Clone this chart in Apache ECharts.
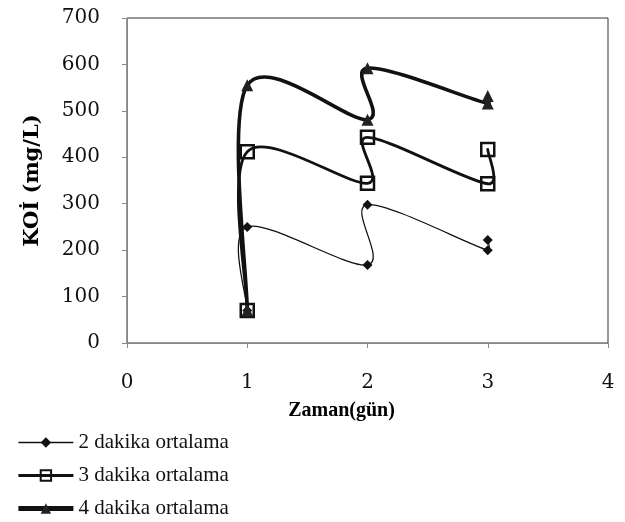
<!DOCTYPE html>
<html>
<head>
<meta charset="utf-8">
<script src="https://cdn.jsdelivr.net/npm/echarts@6/dist/echarts.min.js"></script>
<style>
html,body{margin:0;padding:0;background:#fff;}
#chart{width:625px;height:522px;}
</style>
</head>
<body>
<div id="chart"></div>
<script>
const days = [1, 1, 2, 2, 3, 3];
const koi2 = [70, 250, 168, 298, 200, 222];
const koi3 = [70, 412, 344, 443, 343, 417];
const koi4 = [70, 555, 481, 592, 516, 532];
const seriesNames = ['2 dakika ortalama', '3 dakika ortalama', '4 dakika ortalama'];
const xTicks = [0, 1, 2, 3, 4];
const yTicks = [0, 100, 200, 300, 400, 500, 600, 700];

const pair = vals => days.map((d, i) => [d, vals[i]]);
const SERIF = '"Liberation Serif", "Times New Roman", serif';
const WIDE = '"DejaVu Serif", serif';
const lineWidths = [1.3, 2.8, 3.6];

// Excel-like smoothed scatter curve (Catmull-Rom to cubic Bezier) computed in pixel space,
// with control offsets limited relative to the segment length.
function capOffset(dx, dy, segLen) {
  const len = Math.sqrt(dx * dx + dy * dy);
  const cap = 0.4 * segLen;
  if (len > cap && len > 0) { const k = cap / len; return [dx * k, dy * k]; }
  return [dx, dy];
}
function smoothPathData(pts) {
  const n = pts.length;
  let d = 'M' + pts[0][0] + ' ' + pts[0][1];
  for (let i = 0; i < n - 1; i++) {
    const p0 = pts[i - 1] || pts[i];
    const p1 = pts[i];
    const p2 = pts[i + 1];
    const p3 = pts[i + 2] || pts[i + 1];
    const segLen = Math.hypot(p2[0] - p1[0], p2[1] - p1[1]);
    const o1 = capOffset((p2[0] - p0[0]) / 6, (p2[1] - p0[1]) / 6, segLen);
    const o2 = capOffset((p3[0] - p1[0]) / 6, (p3[1] - p1[1]) / 6, segLen);
    d += ' C' + (p1[0] + o1[0]) + ' ' + (p1[1] + o1[1]) + ' ' +
         (p2[0] - o2[0]) + ' ' + (p2[1] - o2[1]) + ' ' + p2[0] + ' ' + p2[1];
  }
  return d;
}

function curveSeries(vals, width) {
  return {
    type: 'custom', silent: true, z: 1, clip: false,
    data: [0],
    renderItem: function (params, api) {
      const pts = days.map((d, i) => api.coord([d, vals[i]]));
      return {
        type: 'path',
        shape: { pathData: smoothPathData(pts) },
        style: { fill: 'none', stroke: '#111', lineWidth: width, lineJoin: 'round', lineCap: 'round' }
      };
    }
  };
}

const chart = echarts.init(document.getElementById('chart'));
chart.setOption({
  animation: false,
  backgroundColor: '#fff',
  grid: {
    left: 127, right: 17, top: 18, bottom: 179,
    show: true, borderColor: '#333', borderWidth: 1, backgroundColor: 'transparent'
  },
  xAxis: {
    type: 'value', min: xTicks[0], max: xTicks[xTicks.length - 1], interval: 1,
    name: 'Zaman(gün)', nameLocation: 'middle', nameGap: 58,
    nameTextStyle: { fontFamily: SERIF, fontWeight: 'bold', fontSize: 20, color: '#000', padding: [0, 52, 0, 0] },
    axisLine: { show: true, lineStyle: { color: '#888', width: 1 } },
    axisTick: { show: true, inside: false, length: 5, lineStyle: { color: '#888' } },
    axisLabel: { fontFamily: WIDE, fontSize: 20, color: '#111', margin: 30 },
    splitLine: { show: false }
  },
  yAxis: {
    type: 'value', min: yTicks[0], max: yTicks[yTicks.length - 1], interval: 100,
    name: 'KOİ (mg/L)', nameLocation: 'middle', nameGap: 84, nameRotate: 90,
    nameTextStyle: { fontFamily: WIDE, fontWeight: 'bold', fontSize: 21, color: '#000' },
    axisLine: { show: true, lineStyle: { color: '#888', width: 1 } },
    axisTick: { show: true, inside: false, length: 5, lineStyle: { color: '#888' } },
    axisLabel: { fontFamily: WIDE, fontSize: 20, color: '#111', margin: 27 },
    splitLine: { show: false }
  },
  legend: {
    orient: 'vertical', left: 16, top: 432, itemGap: 12, padding: 0,
    itemWidth: 55, itemHeight: 13,
    textStyle: { fontFamily: SERIF, fontSize: 21, color: '#111' },
    data: seriesNames.map((n, i) => ({ name: n, lineStyle: { opacity: 1, width: lineWidths[i] + (i === 2 ? 1.2 : 0) } }))
  },
  series: [
    curveSeries(koi2, lineWidths[0]),
    curveSeries(koi3, lineWidths[1]),
    curveSeries(koi4, lineWidths[2]),
    {
      name: seriesNames[0], type: 'line', z: 3,
      data: pair(koi2),
      symbol: 'diamond', symbolSize: 10,
      lineStyle: { color: '#111', width: lineWidths[0], opacity: 0 },
      itemStyle: { color: '#111' }
    },
    {
      name: seriesNames[1], type: 'line', z: 3,
      data: pair(koi3),
      symbol: 'rect', symbolSize: 13,
      lineStyle: { color: '#111', width: lineWidths[1], opacity: 0 },
      itemStyle: { color: 'rgba(255,255,255,0)', borderColor: '#111', borderWidth: 2.5 }
    },
    {
      name: seriesNames[2], type: 'line', z: 3,
      data: pair(koi4),
      symbol: 'triangle', symbolSize: 12,
      lineStyle: { color: '#111', width: lineWidths[2], opacity: 0 },
      itemStyle: { color: '#222' }
    }
  ]
});
</script>
</body>
</html>
